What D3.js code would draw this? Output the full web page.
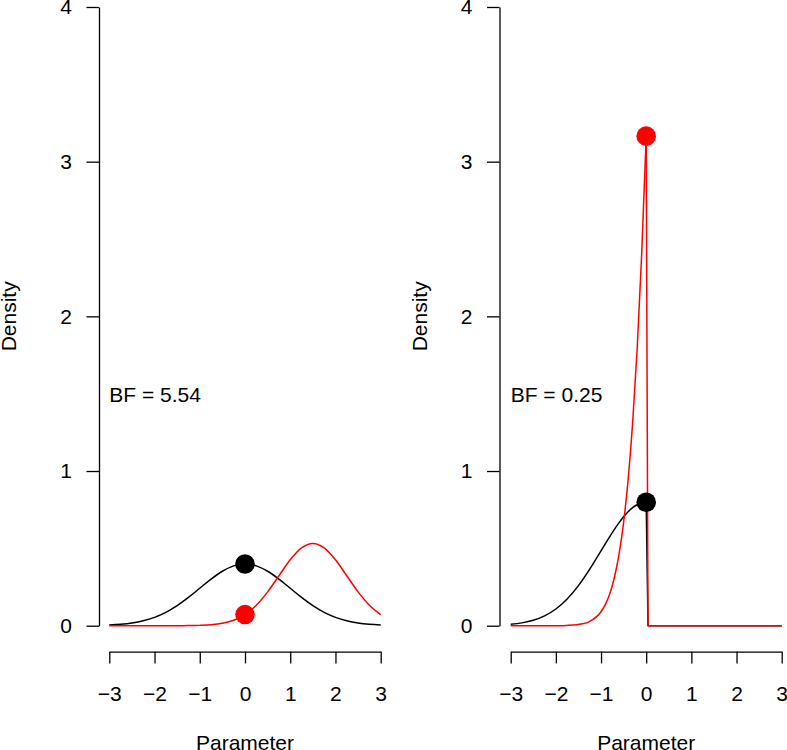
<!DOCTYPE html>
<html>
<head>
<meta charset="utf-8">
<script src="https://cdn.jsdelivr.net/npm/d3@7"></script>
<style>
  html, body { margin: 0; padding: 0; background: #fff; }
  svg { display: block; }
  text { font-family: "Liberation Sans", Arial, Helvetica, sans-serif; }
</style>
</head>
<body>
<svg id="chart" width="787" height="750"></svg>
<script>
// ---------- data ----------
const yTicks = [0, 1, 2, 3, 4];
const xTicks = [-3, -2, -1, 0, 1, 2, 3];

// Left panel: prior (black) and posterior (red)
const xLeft = [-3, -2.75, -2.5, -2.25, -2, -1.75, -1.5, -1.25, -1, -0.75, -0.5, -0.25, 0,
               0.25, 0.5, 0.75, 1, 1.25, 1.5, 1.75, 2, 2.25, 2.5, 2.75, 3];
const priorLeft = [0.0044, 0.0091, 0.0175, 0.0317, 0.0540, 0.0863, 0.1295, 0.1826, 0.2420, 0.3011, 0.3521, 0.3867, 0.3989,
                   0.3867, 0.3521, 0.3011, 0.2420, 0.1826, 0.1295, 0.0863, 0.0540, 0.0317, 0.0175, 0.0091, 0.0044];
const postLeft = [0, 0, 0, 0, 0.0000, 0.0000, 0.0002, 0.0006, 0.0021, 0.0059, 0.0152, 0.0350, 0.0720,
                  0.1327, 0.2187, 0.3227, 0.4259, 0.5032, 0.5319, 0.5032, 0.4259, 0.3227, 0.2187, 0.1327, 0.0720];
const pointsLeft = [ {x: 0, y: 0.3989, c: "black"}, {x: 0, y: 0.0720, c: "red"} ];
const bfLeft = "BF = 5.54";

// Right panel: one-sided prior (black) and posterior (red)
const xRight = [-3, -2.75, -2.5, -2.25, -2, -1.75, -1.5, -1.25, -1, -0.9, -0.8, -0.7, -0.6, -0.5,
                -0.4, -0.3, -0.2, -0.1, 0, 0.04, 3];
const priorRight = [0.0089, 0.0182, 0.0350, 0.0634, 0.1080, 0.1726, 0.2590, 0.3652, 0.4839, 0.5322, 0.5794, 0.6245, 0.6664, 0.7041,
                    0.7365, 0.7628, 0.7821, 0.7939, 0.7979, 0, 0];
const postRight = [0, 0, 0, 0, 0.0004, 0.0020, 0.0078, 0.0281, 0.0904, 0.1397, 0.2122, 0.3166, 0.4640, 0.6680,
                   0.9450, 1.3120, 1.7910, 2.4020, 3.1650, 0, 0];
const pointsRight = [ {x: 0, y: 3.1650, c: "red"}, {x: 0, y: 0.7979, c: "black"} ];
const bfRight = "BF = 0.25";

// ---------- layout ----------
const svg = d3.select("#chart");
svg.append("rect").attr("width", 787).attr("height", 750).attr("fill", "#fff");

const FONT = 21;
const yScale = d3.scaleLinear().domain([0, 4]).range([625.7, 7]);

const panels = [
  { xr: [109.3, 380.7], yAxisX: 99, densX: 15.5, xv: xLeft, prior: priorLeft, post: postLeft,
    pts: pointsLeft, bf: bfLeft, split: false },
  { xr: [510.7, 781.7], yAxisX: 499.5, densX: 427, xv: xRight, prior: priorRight, post: postRight,
    pts: pointsRight, bf: bfRight, split: true }
];
const xAxisY = 651.7;

panels.forEach(p => {
  const x = d3.scaleLinear().domain([-3, 3]).range(p.xr);
  const g = svg.append("g");

  // Y axis
  const ya = g.append("g").attr("transform", `translate(${p.yAxisX},0)`)
    .call(d3.axisLeft(yScale).tickValues(yTicks).tickSize(12.5).tickSizeOuter(0).tickPadding(14.5)
      .tickFormat(d3.format("d")));
  // X axis
  const xa = g.append("g").attr("transform", `translate(0,${xAxisY})`)
    .call(d3.axisBottom(x).tickValues(xTicks).tickSize(11.7).tickSizeOuter(0).tickPadding(22.5)
      .tickFormat(d => d < 0 ? "\u2212" + Math.abs(d) : String(d)));
  [ya, xa].forEach(a => {
    a.selectAll("path, line").attr("stroke", "#000").attr("stroke-width", 1.3);
    a.selectAll("text").attr("font-size", FONT).attr("fill", "#000")
      .attr("font-family", '"Liberation Sans", Arial, sans-serif');
  });

  // Axis titles
  g.append("text").attr("x", (p.xr[0] + p.xr[1]) / 2).attr("y", 749.5)
    .attr("text-anchor", "middle").attr("font-size", FONT).text("Parameter");
  g.append("text").attr("transform", `translate(${p.densX},${yScale(2)}) rotate(-90)`)
    .attr("text-anchor", "middle").attr("font-size", FONT).text("Density");

  // Curves
  const lineSmooth = d3.line().x(d => x(d[0])).y(d => yScale(d[1])).curve(d3.curveMonotoneX);
  const lineStraight = d3.line().x(d => x(d[0])).y(d => yScale(d[1]));

  function drawCurve(vals, color) {
    const pts = p.xv.map((xx, i) => [xx, vals[i]]);
    if (p.split) {
      const smooth = pts.filter(d => d[0] <= 0);
      const tail = pts.filter(d => d[0] >= 0);
      g.append("path").attr("d", lineSmooth(smooth)).attr("fill", "none")
        .attr("stroke", color).attr("stroke-width", 1.5).attr("stroke-linejoin", "round");
      g.append("path").attr("d", lineStraight(tail)).attr("fill", "none")
        .attr("stroke", color).attr("stroke-width", 1.5).attr("stroke-linejoin", "round");
    } else {
      g.append("path").attr("d", lineSmooth(pts)).attr("fill", "none")
        .attr("stroke", color).attr("stroke-width", 1.5).attr("stroke-linejoin", "round");
    }
  }
  drawCurve(p.prior, "#000");
  drawCurve(p.post, "#ff0000");

  // Points
  g.selectAll("circle.pt").data(p.pts).enter().append("circle")
    .attr("class", "pt")
    .attr("cx", d => x(d.x)).attr("cy", d => yScale(d.y)).attr("r", 9.8)
    .attr("fill", d => d.c === "red" ? "#ff0000" : "#000");

  // BF label
  g.append("text").attr("x", x(-3)).attr("y", yScale(1.5)).attr("dy", "0.4em")
    .attr("font-size", FONT).attr("fill", "#000").text(p.bf);
});
</script>
</body>
</html>
